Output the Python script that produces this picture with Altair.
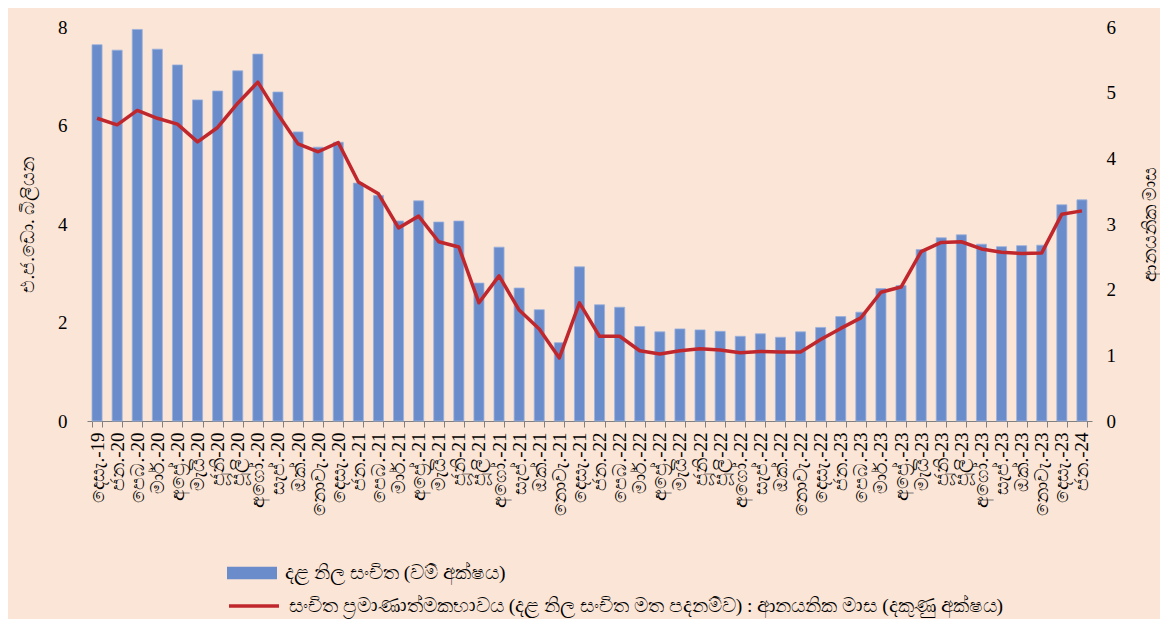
import altair as alt
import pandas as pd

labels = [
    "දෙසැ.-19",
    "ජන.-20", "පෙබ.-20", "මාර්.-20", "අප්‍රේ.-20", "මැයි-20", "ජූනි-20",
    "ජූලි-20", "අගෝ.-20", "සැප්.-20", "ඔක්.-20", "නොවැ.-20", "දෙසැ.-20",
    "ජන.-21", "පෙබ.-21", "මාර්.-21", "අප්‍රේ.-21", "මැයි-21", "ජූනි-21",
    "ජූලි-21", "අගෝ.-21", "සැප්.-21", "ඔක්.-21", "නොවැ.-21", "දෙසැ.-21",
    "ජන.-22", "පෙබ.-22", "මාර්.-22", "අප්‍රේ.-22", "මැයි-22", "ජූනි-22",
    "ජූලි-22", "අගෝ.-22", "සැප්.-22", "ඔක්.-22", "නොවැ.-22", "දෙසැ.-22",
    "ජන.-23", "පෙබ.-23", "මාර්.-23", "අප්‍රේ.-23", "මැයි-23", "ජූනි-23",
    "ජූලි-23", "අගෝ.-23", "සැප්.-23", "ඔක්.-23", "නොවැ.-23", "දෙසැ.-23",
    "ජන.-24",
]

reserves = [
    7.64,
    7.53, 7.95, 7.55, 7.23, 6.52, 6.70, 7.11, 7.45, 6.68, 5.87, 5.56, 5.66,
    4.83, 4.58, 4.06, 4.47, 4.04, 4.06, 2.80, 3.53, 2.70, 2.26, 1.59, 3.13,
    2.36, 2.31, 1.92, 1.81, 1.87, 1.85, 1.82, 1.72, 1.77, 1.70, 1.81, 1.90,
    2.12, 2.21, 2.69, 2.75, 3.48, 3.72, 3.78, 3.59, 3.54, 3.56, 3.57, 4.39,
    4.49,
]

import_cover = [
    4.61,
    4.51, 4.73, 4.61, 4.52, 4.25, 4.47, 4.84, 5.16, 4.67, 4.22, 4.10, 4.24,
    3.64, 3.46, 2.94, 3.12, 2.73, 2.65, 1.80, 2.21, 1.69, 1.40, 0.96, 1.80,
    1.29, 1.29, 1.07, 1.02, 1.07, 1.10, 1.08, 1.04, 1.06, 1.05, 1.05, 1.24,
    1.41, 1.57, 1.96, 2.04, 2.58, 2.72, 2.73, 2.62, 2.57, 2.55, 2.56, 3.15,
    3.20,
]

bar_name = "දළ නිල සංචිත (වම් අක්ෂය)"
line_name = "සංචිත ප්‍රමාණාත්මකභාවය (දළ නිල සංචිත මත පදනම්ව) : ආනයනික මාස (දකුණු අක්ෂය)"
left_title = "එ.ජ.ඩො. බිලියන"
right_title = "ආනයනික මාස"

df = pd.DataFrame({
    "month": labels,
    "reserves": reserves,
    "cover": import_cover,
    "s1": bar_name,
    "s2": line_name,
})

FONT = "Liberation Serif"
BAR = "#6A8CCB"
RED = "#C0272D"

x = alt.X(
    "month:N", sort=labels, title=None,
    scale=alt.Scale(paddingInner=0.5, paddingOuter=0.25),
    axis=alt.Axis(
        labelAngle=-90, labelFont=FONT, labelFontSize=19, labelColor="#000000",
        labelPadding=5, labelLimit=300, domainColor="#808080", tickColor="#808080",
        tickSize=6, tickBand="extent", grid=False,
    ),
)

bars = alt.Chart(df).mark_bar(stroke="#9AB1DD", strokeWidth=0.8).encode(
    x=x,
    y=alt.Y(
        "reserves:Q",
        scale=alt.Scale(domain=[0, 8], nice=False),
        axis=alt.Axis(
            values=[0, 2, 4, 6, 8], grid=False, domain=False, ticks=False,
            labelFont=FONT, labelFontSize=19, labelColor="#000000", labelPadding=20,
            title=left_title, titleFont=FONT, titleFontSize=19, titleFontWeight="normal",
            titleColor="#000000", titlePadding=20, titleAngle=270,
        ),
    ),
    color=alt.Color(
        "s1:N", scale=alt.Scale(range=[BAR]),
        legend=alt.Legend(
            title=None, orient="none", legendX=140, legendY=521,
            symbolType="M-1,-0.25H1V0.25H-1Z", symbolSize=2500, symbolStrokeWidth=0,
            labelFont=FONT, labelFontSize=19.5, labelColor="#000000", labelLimit=1000,
            labelOffset=8,
        ),
    ),
)

line = alt.Chart(df).mark_line(strokeWidth=3.5, strokeJoin="round").encode(
    x=x,
    y=alt.Y(
        "cover:Q",
        scale=alt.Scale(domain=[0, 6], nice=False),
        axis=alt.Axis(
            orient="right", values=[0, 1, 2, 3, 4, 5, 6], grid=False, domain=False,
            ticks=False, labelFont=FONT, labelFontSize=19, labelColor="#000000",
            labelPadding=14, title=right_title, titleFont=FONT, titleFontSize=19,
            titleFontWeight="normal", titleColor="#000000", titlePadding=44,
            titleAngle=270,
        ),
    ),
    stroke=alt.Stroke(
        "s2:N", scale=alt.Scale(range=[RED]),
        legend=alt.Legend(
            title=None, orient="none", legendX=140, legendY=552,
            symbolType="stroke", symbolSize=2500, symbolStrokeWidth=3.5,
            labelFont=FONT, labelFontSize=19.5, labelColor="#000000", labelLimit=1000,
            labelOffset=8,
        ),
    ),
)

chart = alt.layer(bars, line).resolve_scale(
    y="independent", color="independent", stroke="independent"
).properties(
    width=1005, height=394,
    background="#FBE5D6",
    padding={"left": 10, "top": 10, "right": 0, "bottom": 3},
).configure_view(stroke=None)

chart.save("out.html", embed_options={"renderer": "svg", "actions": False})
